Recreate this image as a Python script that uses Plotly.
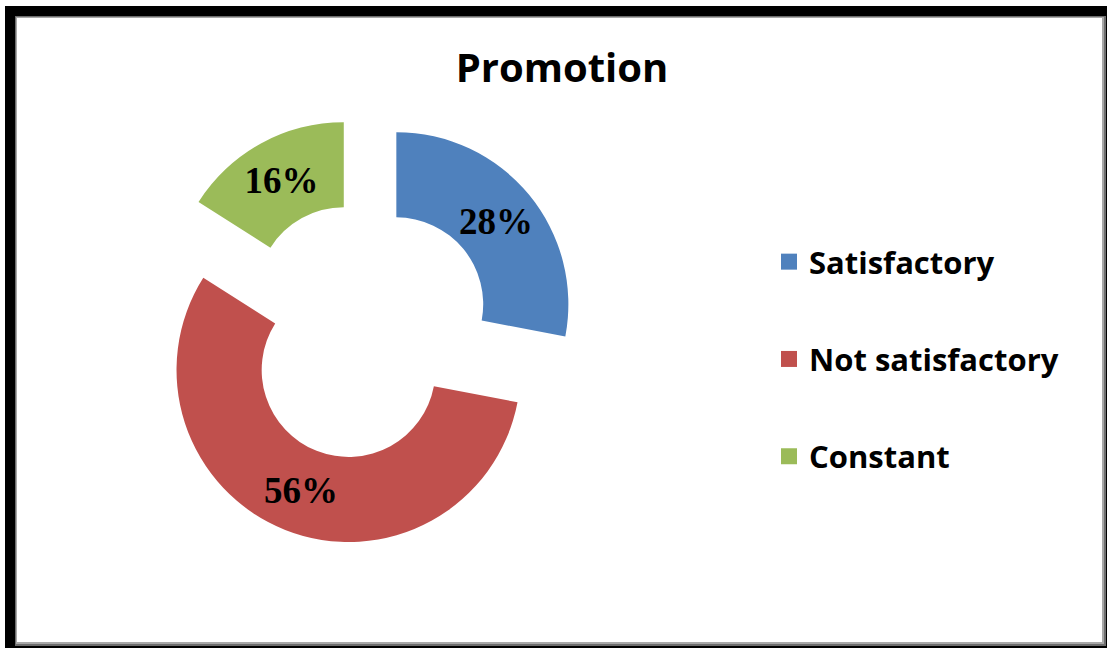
import plotly.graph_objects as go

# Data
categories = ["Satisfactory", "Not satisfactory", "Constant"]
values = [28, 56, 16]
colors = ["#4F81BD", "#C0504D", "#9BBB59"]
title_text = "Promotion"

W, H = 1107, 648

fig = go.Figure()

fig.add_trace(go.Pie(
    labels=categories,
    values=values,
    sort=False,
    direction="clockwise",
    rotation=0,
    hole=0.505,
    pull=[0.244] * len(values),
    marker=dict(colors=colors, line=dict(width=0)),
    texttemplate="%{percent:.0%}",
    textposition="inside",
    insidetextorientation="horizontal",
    textfont=dict(family="Liberation Serif", size=37, color="black", weight="bold"),
    domain=dict(x=[150 / W, 578 / W], y=[1 - 545 / H, 1 - 117 / H]),
    showlegend=False,
    hoverinfo="label+percent",
))

# legend entries
for i, (c, col) in enumerate(zip(categories, colors)):
    fig.add_trace(go.Scatter(
        x=[None], y=[None], mode="markers", name=c,
        marker=dict(symbol="square", size=16, color=col),
        legendgroup=f"g{i}", showlegend=True,
    ))

# frame shapes
def px_rect(x0, y0, x1, y1, color):
    return dict(type="rect", xref="paper", yref="paper",
                x0=x0 / W, x1=x1 / W, y0=1 - y1 / H, y1=1 - y0 / H,
                fillcolor=color, line=dict(width=0), layer="below")

shapes = [
    px_rect(5, 6, 1107, 648, "black"),
    px_rect(15, 16, 1106, 646, "#6e6e6e"),
    px_rect(16, 17, 1104, 644, "#a8a8a8"),
    px_rect(17, 18, 1102, 642, "white"),
]

fig.update_layout(
    width=W, height=H,
    margin=dict(l=0, r=0, t=0, b=0),
    paper_bgcolor="white",
    plot_bgcolor="rgba(0,0,0,0)",
    shapes=shapes,
    title=dict(text=f"<b>{title_text}</b>", x=562 / W, xanchor="center",
               y=1 - 68 / H, yanchor="middle", yref="container",
               font=dict(family="Open Sans", size=40, color="black")),
    xaxis=dict(visible=False),
    yaxis=dict(visible=False),
    legend=dict(x=769 / W, xanchor="left", y=1 - 235 / H, yanchor="top",
                font=dict(family="Open Sans", size=31, color="black", weight="bold"),
                tracegroupgap=54, bgcolor="rgba(0,0,0,0)", itemsizing="trace"),
)

fig.write_html("out.html")
